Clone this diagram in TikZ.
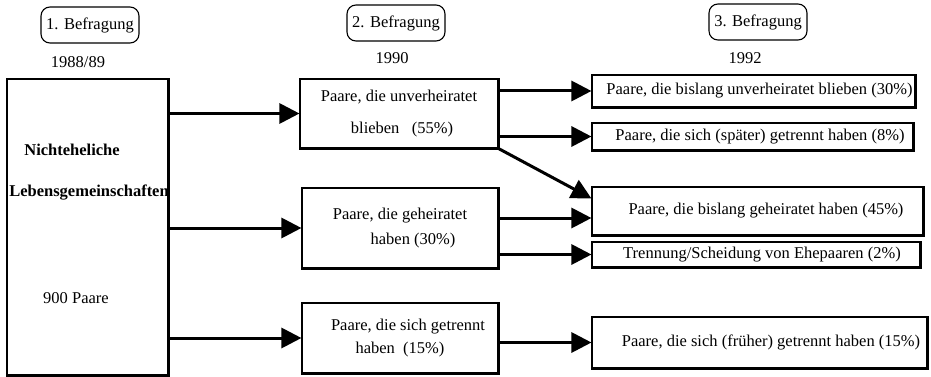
\documentclass[tikz,border=0pt]{standalone}
\usepackage{fontspec}
\setmainfont{Liberation Serif}
\usetikzlibrary{arrows.meta}

\newcommand{\txtsize}{\fontsize{16.5}{19}\selectfont}

\tikzset{
    every node/.style={font=\txtsize},
    box/.style={draw, line width=1.1pt, align=center, inner sep=0pt},
    head/.style={draw, line width=1.1pt, rounded corners=9pt, minimum width=98pt, minimum height=36pt, inner sep=0pt},
    arr/.style={line width=3pt, -{Triangle[length=20pt, width=20pt]}},
    heavy/.style={line width=2.2pt},
}

\begin{document}
\begin{tikzpicture}[x=1pt, y=-1pt]
    \useasboundingbox (0,0) rectangle (931,377);

    % Befragungen
    \node[head] (h1) at (90, 25) {1. Befragung};
    \node[head] (h2) at (396, 23) {2. Befragung};
    \node[head] (h3) at (758, 22) {3. Befragung};
    \node (y1) at (78, 62) {1988/89};
    \node (y2) at (392, 58) {1990};
    \node (y3) at (745, 58) {1992};

    % 1988/89
    \node[box, minimum width=161pt, minimum height=296pt] (L) at (87.5, 227) {};
    \node[font=\txtsize\bfseries] (l1) at (72, 150) {Nichteheliche};
    \node[font=\txtsize\bfseries] (l2) at (89, 193) {Lebensgemeinschaften};
    \node (l3) at (76, 298) {900 Paare};

    % 1990
    \node[box, minimum width=198pt, minimum height=69pt] (A) at (399, 113.5)
        {Paare, die unverheiratet\\[13pt]\hspace*{6pt}blieben\enspace\ (55\%)};
    \node[box, minimum width=196pt, minimum height=80pt] (B) at (400, 228)
        {Paare, die geheiratet\\[6pt]\hspace*{26pt}haben (30\%)};
    \node[box, minimum width=196pt, minimum height=70pt] (C) at (400, 338)
        {\hspace*{16pt}Paare, die sich getrennt\\[4pt]haben\ \ (15\%)};

    % 1992
    \node[box, minimum width=323pt, minimum height=32pt] (R1) at (753.5, 91)
        {\hspace*{12pt}Paare, die bislang unverheiratet blieben (30\%)};
    \node[box, minimum width=321pt, minimum height=27pt] (R2) at (752.5, 136.5)
        {\hspace*{15pt}Paare, die sich (später) getrennt haben (8\%)};
    \node[box, minimum width=331pt, minimum height=48pt] (R3) at (757.5, 211)
        {\hspace*{17pt}Paare, die bislang geheiratet haben (45\%)};
    \node[box, minimum width=328pt, minimum height=25pt] (R4) at (756, 254.5)
        {\hspace*{12pt}Trennung/Scheidung von Ehepaaren (2\%)};
    \node[box, minimum width=335pt, minimum height=51pt] (R5) at (759.5, 342.5)
        {\hspace*{23pt}Paare, die sich (früher) getrennt haben (15\%)};

    \foreach \n in {L, A, B, C, R1, R2, R3, R4, R5}
        \draw[heavy] (\n.north east) -- (\n.south east) -- (\n.south west);

    % Pfeile
    \draw[arr] (L.east |- A.west) -- (A.west);
    \draw[arr] (L.east |- B.west) -- (B.west);
    \draw[arr] (L.east |- C.west) -- (C.west);

    \coordinate (r3in) at ([yshift=-7pt]R3.west);
    \draw[arr] (A.east |- R1.west) -- (R1.west);
    \draw[arr] (A.east |- R2.west) -- (R2.west);
    \draw[arr] (A.south east) -- ([yshift=-12pt]R3.north west);
    \draw[arr] (B.east |- r3in) -- (r3in);
    \draw[arr] (B.east |- R4.west) -- (R4.west);
    \draw[arr] (C.east |- R5.west) -- (R5.west);
\end{tikzpicture}
\end{document}
